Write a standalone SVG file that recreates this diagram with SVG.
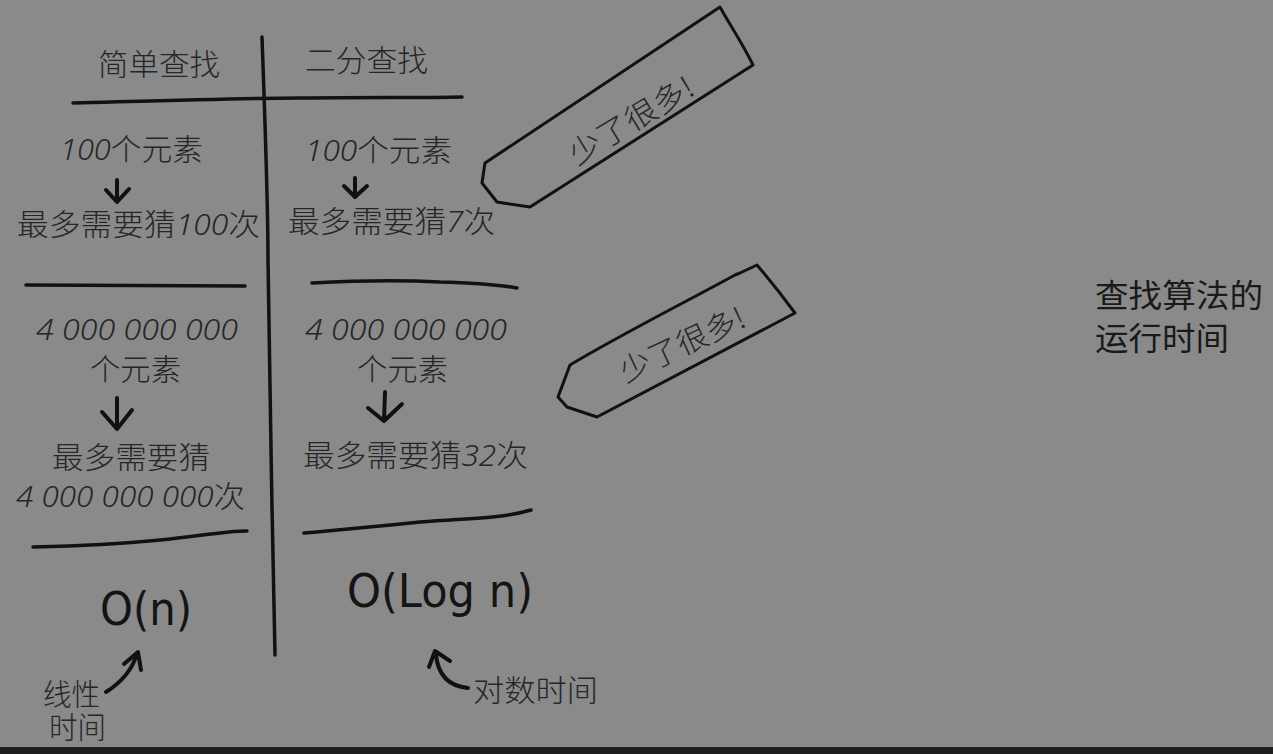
<svg xmlns="http://www.w3.org/2000/svg" width="1273" height="754" viewBox="0 0 1273 754">
<style>
.hw{font-family:"Noto Sans CJK SC","Noto Sans",sans-serif;font-size:30px;fill:#262626;font-weight:300}
.lb{font-family:"Liberation Sans","Noto Sans CJK SC",sans-serif}
.d{font-family:"Noto Sans","DejaVu Sans",sans-serif;font-style:italic;font-weight:300}
.big{font-family:"DejaVu Sans","Noto Sans",sans-serif;font-size:46px;fill:#141414;font-weight:400}
.ln{fill:none;stroke:#111;stroke-width:3.5;stroke-linecap:round;stroke-linejoin:round}
.ar{fill:none;stroke:#111;stroke-width:4;stroke-linecap:round;stroke-linejoin:round}
.co{fill:none;stroke:#111;stroke-width:3;stroke-linejoin:round;stroke-linecap:round}
.title{font-family:"Liberation Sans","Noto Sans CJK SC",sans-serif;font-size:32px;fill:#1a1a1a}
</style>
<rect x="0" y="0" width="1273" height="754" fill="#8a8a8a"/>
<rect x="0" y="747" width="1273" height="7" fill="#1e1e1e"/>

<g id="grid">
<path class="ln" d="M262,37 C265,120 268,200 268,260 C270,400 272,520 275,655"/>
<path class="ln" d="M73,103 C150,101 250,98 300,98 C370,97 420,98 462,97"/>
<path class="ln" d="M26,285 L245,286"/>
<path class="ln" d="M312,283 C350,281 400,280 440,282 C480,283 500,285 517,288"/>
<path class="ln" d="M33,547 C80,546 120,544 160,540 C200,536 225,531 247,531"/>
<path class="ln" d="M304,533 C340,530 380,526 420,522 C470,518 500,519 531,510"/>
</g>

<g id="col-simple">
<text class="hw" x="98" y="75" textLength="122" lengthAdjust="spacingAndGlyphs">简单查找</text>
<text class="hw" x="60" y="160" textLength="143" lengthAdjust="spacingAndGlyphs"><tspan class="d">100</tspan>个元素</text>
<text class="hw" x="17" y="235" textLength="243" lengthAdjust="spacingAndGlyphs">最多需要猜<tspan class="d">100</tspan>次</text>
<text class="hw d" x="36" y="340" textLength="202" lengthAdjust="spacingAndGlyphs">4 000 000 000</text>
<text class="hw" x="90" y="380" textLength="91" lengthAdjust="spacingAndGlyphs">个元素</text>
<text class="hw" x="52" y="468" textLength="158" lengthAdjust="spacingAndGlyphs">最多需要猜</text>
<text class="hw" x="16" y="507" textLength="229" lengthAdjust="spacingAndGlyphs"><tspan class="d">4 000 000 000</tspan>次</text>
<text class="big" x="100" y="625" textLength="92" lengthAdjust="spacingAndGlyphs">O(n)</text>
<text class="hw lb" x="43" y="705" font-size="28" textLength="57" lengthAdjust="spacingAndGlyphs">线性</text>
<text class="hw lb" x="49" y="738" font-size="28" textLength="57" lengthAdjust="spacingAndGlyphs">时间</text>
</g>

<g id="col-binary">
<text class="hw" x="305" y="71" textLength="123" lengthAdjust="spacingAndGlyphs">二分查找</text>
<text class="hw" x="305" y="161" textLength="147" lengthAdjust="spacingAndGlyphs"><tspan class="d">100</tspan>个元素</text>
<text class="hw" x="288" y="232" textLength="207" lengthAdjust="spacingAndGlyphs">最多需要猜<tspan class="d">7</tspan>次</text>
<text class="hw d" x="305" y="340" textLength="202" lengthAdjust="spacingAndGlyphs">4 000 000 000</text>
<text class="hw" x="357" y="380" textLength="91" lengthAdjust="spacingAndGlyphs">个元素</text>
<text class="hw" x="303" y="466" textLength="225" lengthAdjust="spacingAndGlyphs">最多需要猜<tspan class="d">32</tspan>次</text>
<text class="big" x="347" y="607" textLength="186" lengthAdjust="spacingAndGlyphs">O(Log n)</text>
<text class="hw" x="473" y="701" font-size="28" textLength="125" lengthAdjust="spacingAndGlyphs">对数时间</text>
</g>

<g id="callout-1">
<path class="co" d="M720,7 C728,22 742,42 753,65 L530,207 L503,203 L497,202 L482,183 L485,163 C560,113 640,60 720,7 Z"/>
<text class="hw" font-size="28" text-anchor="middle" transform="translate(632,122) rotate(-31)" textLength="140" lengthAdjust="spacingAndGlyphs" x="0" y="9">少了很多!</text>
</g>

<g id="callout-2">
<path class="co" d="M757,265 C768,278 778,290 795,313 L597,417 L567,407 L558,397 L570,365 C620,335 680,305 735,275 L740,273 Z"/>
<text class="hw" font-size="28" text-anchor="middle" transform="translate(683,346) rotate(-25)" textLength="135" lengthAdjust="spacingAndGlyphs" x="0" y="9">少了很多!</text>
</g>

<g id="connectors">
<path class="ar" d="M117,180 L117,201 M106,190 L117,202 L129,189"/>
<path class="ar" d="M355,178 L355,196 M344,186 L355,197 L367,186"/>
<path class="ar" d="M117,398 L117,428 M102,412 L117,429 L132,410"/>
<path class="ar" d="M385,392 L384,421 M368,408 L384,421 L402,404"/>
<path class="ar" d="M106,692 C122,682 132,670 137,654 M124,664 L138,652 L141,670"/>
<path class="ar" d="M468,688 C448,686 438,675 436,655 M429,667 L435,651 L450,661"/>
</g>

<g id="caption">
<text class="title" x="1095" y="307" textLength="168" lengthAdjust="spacingAndGlyphs">查找算法的</text>
<text class="title" x="1095" y="350" textLength="134" lengthAdjust="spacingAndGlyphs">运行时间</text>
</g>
</svg>
